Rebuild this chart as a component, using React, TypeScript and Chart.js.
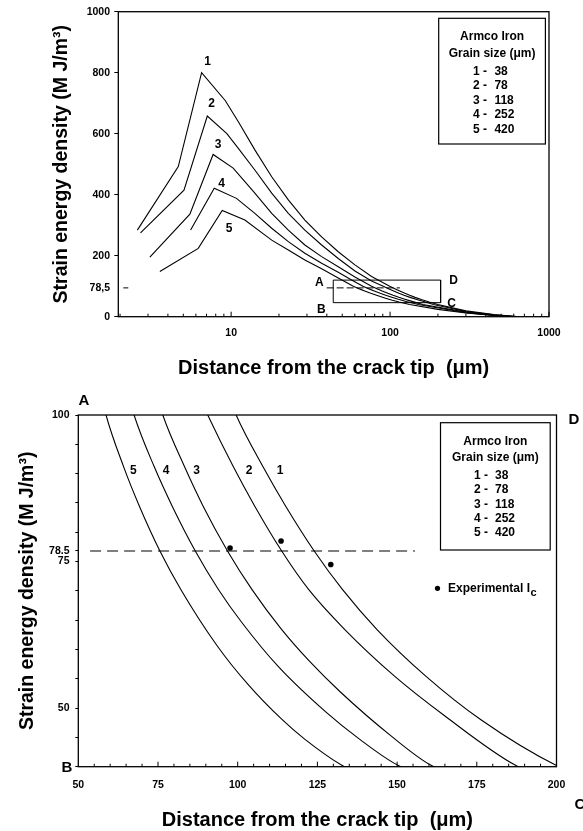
import React, { useEffect, useRef } from 'react';
import { Chart, registerables } from 'chart.js';

Chart.register(...registerables);

const FONT = '"Liberation Sans", Arial, Helvetica, sans-serif';
const INK = '#000';

// ---- Curves (shared by both panels): distance from crack tip (µm) vs strain energy density (MJ/m³)
const CURVE1_X = [2.57, 4.65, 6.52, 9.2, 11.1, 14.1, 18.0, 22.9, 29.1, 37.1, 47.2, 60.1, 76.5, 99.5, 107.9, 115.1, 124.0, 132.9, 143.7, 158.9, 176.3, 200, 300, 450, 650];
const CURVE1_Y = [284, 492, 800, 708, 639, 547, 459, 383, 317, 262, 213, 170, 132, 100, 91.2, 84.4, 76.8, 70.2, 63.4, 55.5, 48, 40.2, 19, 7, 0];
const CURVE2_X = [2.69, 5.05, 7.08, 9.4, 11.1, 14.1, 18.0, 22.9, 29.1, 37.1, 47.2, 60.1, 76.5, 90.6, 98.6, 105.4, 113.8, 122.3, 133.6, 149.1, 164.9, 187.3, 300, 450, 650];
const CURVE2_Y = [275, 415, 658, 600, 552, 481, 405, 339, 284, 235, 191, 150, 117, 100, 91.2, 84.4, 76.8, 70.2, 63.4, 55.5, 48.7, 40.2, 17, 6, 0];
const CURVE3_X = [3.08, 5.5, 7.7, 10.3, 14.1, 18.0, 22.9, 29.1, 37.1, 47.2, 60.1, 76.5, 83.3, 89.2, 96.8, 104.5, 113.5, 122.5, 132.3, 148.0, 160.8, 300, 450, 640];
const CURVE3_Y = [195, 336, 532, 487, 405, 339, 284, 235, 197, 164, 130, 100, 91.2, 84.4, 76.8, 70.2, 63.6, 58, 52.7, 45.3, 40.2, 15, 5, 0];
const CURVE4_X = [5.56, 7.83, 10.8, 14.1, 18.0, 22.9, 29.1, 37.1, 47.2, 58, 67.5, 73.8, 79.5, 86.7, 94.0, 101.3, 112.7, 127.7, 138.2, 150.4, 300, 450, 630];
const CURVE4_Y = [284, 421, 388, 339, 290, 246, 208, 175, 146, 119, 100, 91.2, 84.4, 76.8, 70.2, 64.6, 57.1, 49.3, 44.7, 40.2, 13, 4, 0];
const CURVE5_X = [3.56, 6.21, 8.79, 12.2, 18.0, 22.9, 29.1, 37.1, 47.2, 58.7, 64.2, 69.2, 75.6, 82.2, 93.6, 103.3, 113.8, 121.0, 132.8, 200, 300, 450, 620];
const CURVE5_Y = [148, 224, 348, 317, 251, 219, 186, 157, 127, 100, 91.2, 84.4, 76.8, 70.2, 60.6, 54, 48.1, 44.7, 40.2, 24, 12, 4, 0];

const CURVE_NAMES = ['1', '2', '3', '4', '5'];
const GRAIN_SIZES = ['38', '78', '118', '252', '420'];

// ---- Top panel
const TOP_X_TICKS = [10, 100, 1000];
const TOP_Y_TICKS = [0, 200, 400, 600, 800, 1000];
const TOP_REF_VALUE = 94.5;
const TOP_REF_LABEL = '78,5';
const TOP_REF_LINE_X = [39.9, 115.4];
const BOX_X = [43.9, 208, 208, 43.9, 43.9];
const BOX_Y = [120, 120, 46, 46, 120];
const TOP_LABEL_X = [7.12, 7.54, 8.29, 8.71, 9.69];
const TOP_LABEL_Y = [836, 700, 563, 437, 290];

// ---- Bottom panel
const BOTTOM_X_TICKS = [50, 75, 100, 125, 150, 175, 200];
const BOTTOM_Y_LABELLED = [100, 75, 50];
const BOTTOM_REF_VALUE = 76.8;
const BOTTOM_REF_LABEL = '78.5';
const BOTTOM_REF_LINE_X = [53.7, 155.6];
const EXP_X = [97.6, 113.6, 129.2];
const EXP_Y = [77.3, 78.5, 74.5];
const BOTTOM_LABEL_X = [113.3, 103.6, 87.1, 77.5, 67.3];
const BOTTOM_LABEL_Y = [90.5, 90.5, 90.5, 90.5, 90.5];

const CURVES = [
  [CURVE1_X, CURVE1_Y],
  [CURVE2_X, CURVE2_Y],
  [CURVE3_X, CURVE3_Y],
  [CURVE4_X, CURVE4_Y],
  [CURVE5_X, CURVE5_Y],
];

const zip = (xs: number[], ys: number[]) => xs.map((x, i) => ({ x, y: ys[i] }));

const tickFont = { family: FONT, size: 10.5, weight: 'bold' as const };
const titleFont = { family: FONT, size: 20, weight: 'bold' as const, lineHeight: 1 };

function txt(ctx: CanvasRenderingContext2D, s: string, x: number, y: number, font: string, align: CanvasTextAlign = 'center') {
  ctx.font = font;
  ctx.textAlign = align;
  ctx.textBaseline = 'middle';
  ctx.fillStyle = INK;
  ctx.fillText(s, x, y);
}

function frame(chart: any) {
  const { ctx, chartArea: a } = chart;
  ctx.save();
  ctx.strokeStyle = INK;
  ctx.lineWidth = 1.3;
  ctx.strokeRect(a.left, a.top, a.right - a.left, a.bottom - a.top);
  ctx.restore();
}

function legendBox(ctx: CanvasRenderingContext2D, left: number, top: number, right: number, bottom: number, rows: number[], prefixRight: number, valueLeft: number) {
  ctx.save();
  ctx.strokeStyle = INK;
  ctx.lineWidth = 1.2;
  ctx.strokeRect(left, top, right - left, bottom - top);
  const f = `bold 12px ${FONT}`;
  const cx = (left + right) / 2;
  txt(ctx, 'Armco Iron', cx, rows[0], f);
  txt(ctx, 'Grain size (\u03bcm)', cx, rows[1], f);
  CURVE_NAMES.forEach((n, i) => {
    txt(ctx, n + ' -', prefixRight, rows[i + 2], f, 'right');
    txt(ctx, GRAIN_SIZES[i], valueLeft, rows[i + 2], f, 'left');
  });
  ctx.restore();
}

const lineDs = (data: any[], extra: any = {}) => ({
  data,
  borderColor: INK,
  backgroundColor: INK,
  borderWidth: 1.1,
  pointRadius: 0,
  fill: false,
  tension: 0,
  ...extra,
});

function topConfig(): any {
  const H = 385;
  const plugin = {
    id: 'topDecor',
    afterDraw(chart: any) {
      const { ctx, chartArea: a, scales } = chart;
      const sx = scales.x, sy = scales.y;
      frame(chart);
      ctx.save();
      ctx.strokeStyle = INK;
      ctx.lineWidth = 1;
      for (const d of [1, 10, 100]) {
        for (let m = 2; m <= 10; m++) {
          const v = m * d;
          if (v < sx.min || v > sx.max) continue;
          const px = sx.getPixelForValue(v);
          ctx.beginPath();
          ctx.moveTo(px, a.bottom);
          ctx.lineTo(px, a.bottom - (m === 10 ? 5 : 3));
          ctx.stroke();
        }
      }
      const ry = sy.getPixelForValue(TOP_REF_VALUE);
      ctx.beginPath();
      ctx.moveTo(a.left + 5, ry);
      ctx.lineTo(a.left + 10, ry);
      ctx.stroke();
      const lf = `bold 12px ${FONT}`;
      CURVE_NAMES.forEach((n, i) => {
        txt(ctx, n, sx.getPixelForValue(TOP_LABEL_X[i]), sy.getPixelForValue(TOP_LABEL_Y[i]), lf);
      });
      const bl = sx.getPixelForValue(BOX_X[0]);
      const br = sx.getPixelForValue(BOX_X[1]);
      const bt = sy.getPixelForValue(BOX_Y[0]);
      const bb = sy.getPixelForValue(BOX_Y[2]);
      txt(ctx, 'A', bl - 14, ry - 5, lf);
      txt(ctx, 'B', bl - 12, bb + 7, lf);
      txt(ctx, 'C', br + 11, bb + 1, lf);
      txt(ctx, 'D', br + 13, bt + 1, lf);
      ctx.restore();
      legendBox(ctx, 438.7, 18.3, 545.4, 144, [36.7, 53.3, 71.7, 86, 100.7, 115, 129.3], 487, 494.4);
    },
  };
  return {
    type: 'line',
    data: {
      datasets: [
        ...CURVES.map(([xs, ys]) => lineDs(zip(xs, ys))),
        lineDs(zip(TOP_REF_LINE_X, [TOP_REF_VALUE, TOP_REF_VALUE]), { borderDash: [7, 3], borderWidth: 1 }),
        lineDs(zip(BOX_X, BOX_Y), { borderWidth: 1 }),
      ],
    },
    options: {
      animation: false,
      responsive: false,
      maintainAspectRatio: false,
      events: [],
      layout: { padding: { left: 0, top: 11.7, right: 34, bottom: 0 } },
      plugins: { legend: { display: false }, tooltip: { enabled: false } },
      scales: {
        x: {
          type: 'logarithmic',
          min: 1.95,
          max: 1000,
          afterBuildTicks: (s: any) => { s.ticks = TOP_X_TICKS.map((v) => ({ value: v })); },
          afterFit: (s: any) => { s.height = H - 316.7; s.paddingLeft = 0; s.paddingRight = 0; },
          ticks: { callback: (v: any) => String(v), font: tickFont, color: INK, padding: 10, autoSkip: false, maxRotation: 0 },
          grid: { display: false, drawTicks: false },
          border: { display: false },
          title: { display: true, text: 'Distance from the crack tip  (\u03bcm)', font: titleFont, color: INK, padding: { top: 0, bottom: 6.7 } },
        },
        y: {
          type: 'linear',
          min: 0,
          max: 1000,
          afterBuildTicks: (s: any) => {
            s.ticks = [...TOP_Y_TICKS, TOP_REF_VALUE].sort((p, q) => p - q).map((v) => ({ value: v }));
          },
          afterFit: (s: any) => { s.width = 118.3; s.paddingTop = 0; s.paddingBottom = 0; },
          ticks: {
            callback: (v: any) => (v === TOP_REF_VALUE ? TOP_REF_LABEL : String(v)),
            font: tickFont, color: INK, padding: 4.3, autoSkip: false,
          },
          grid: {
            display: true, drawOnChartArea: false, drawTicks: true, tickLength: 4,
            tickColor: (c: any) => (c.tick && c.tick.value === TOP_REF_VALUE ? 'rgba(0,0,0,0)' : INK),
          },
          border: { display: false },
          title: { display: true, text: 'Strain energy density (M J/m\u00b3)', font: { ...titleFont, size: 19.5 }, color: INK, padding: { top: 52, bottom: 0 } },
        },
      },
    },
    plugins: [plugin],
  };
}

function bottomConfig(): any {
  const H = 446;
  const plugin = {
    id: 'bottomDecor',
    afterDraw(chart: any) {
      const { ctx, chartArea: a, scales } = chart;
      const sx = scales.x, sy = scales.y;
      frame(chart);
      ctx.save();
      ctx.strokeStyle = INK;
      ctx.lineWidth = 1;
      for (let v = sx.min + 5; v < sx.max; v += 5) {
        const px = sx.getPixelForValue(v);
        ctx.beginPath();
        ctx.moveTo(px, a.bottom);
        ctx.lineTo(px, a.bottom - (v % 25 === 0 ? 5 : 3));
        ctx.stroke();
      }
      const lf = `bold 12px ${FONT}`;
      CURVE_NAMES.forEach((n, i) => {
        txt(ctx, n, sx.getPixelForValue(BOTTOM_LABEL_X[i]), sy.getPixelForValue(BOTTOM_LABEL_Y[i]), lf);
      });
      const big = `bold 15px ${FONT}`;
      txt(ctx, 'A', a.left + 5.5, a.top - 14, big);
      txt(ctx, 'B', a.left - 11.5, a.bottom + 1, big);
      txt(ctx, 'C', a.right + 23.5, a.bottom + 38.3, big);
      txt(ctx, 'D', a.right + 17.5, a.top + 5, big);
      ctx.fillStyle = INK;
      ctx.beginPath();
      ctx.arc(437.5, 203.3, 2.6, 0, Math.PI * 2);
      ctx.fill();
      txt(ctx, 'Experimental I', 448, 203.3, lf, 'left');
      ctx.font = lf;
      const w = ctx.measureText('Experimental I').width;
      txt(ctx, 'c', 448 + w + 0.5, 207.5, `bold 11px ${FONT}`, 'left');
      ctx.restore();
      legendBox(ctx, 440.5, 37.7, 550.2, 165, [56.7, 72.3, 91, 105, 120, 133.3, 147.7], 488, 495);
    },
  };
  return {
    type: 'line',
    data: {
      datasets: [
        ...CURVES.map(([xs, ys]) => lineDs(zip(xs, ys), { cubicInterpolationMode: 'monotone' })),
        lineDs(zip(BOTTOM_REF_LINE_X, [BOTTOM_REF_VALUE, BOTTOM_REF_VALUE]), { borderDash: [11, 6], borderWidth: 1.2 }),
        {
          data: zip(EXP_X, EXP_Y),
          showLine: false,
          pointRadius: 2.8,
          pointBorderWidth: 0,
          pointBackgroundColor: INK,
          borderColor: INK,
        },
      ],
    },
    options: {
      animation: false,
      responsive: false,
      maintainAspectRatio: false,
      events: [],
      layout: { padding: { left: 0, top: 30, right: 26.5, bottom: 0 } },
      plugins: { legend: { display: false }, tooltip: { enabled: false } },
      scales: {
        x: {
          type: 'linear',
          min: 50,
          max: 200,
          afterBuildTicks: (s: any) => { s.ticks = BOTTOM_X_TICKS.map((v) => ({ value: v })); },
          afterFit: (s: any) => { s.height = H - 381.7; s.paddingLeft = 0; s.paddingRight = 0; },
          ticks: { callback: (v: any) => String(v), font: tickFont, color: INK, padding: 12, autoSkip: false, maxRotation: 0 },
          grid: { display: false, drawTicks: false },
          border: { display: false },
          title: { display: true, text: 'Distance from the crack tip  (\u03bcm)', font: titleFont, color: INK, padding: { top: 0, bottom: 1 } },
        },
        y: {
          type: 'linear',
          min: 40,
          max: 100,
          afterBuildTicks: (s: any) => {
            const vals: number[] = [];
            for (let v = 40; v <= 100; v += 5) vals.push(v);
            vals.push(BOTTOM_REF_VALUE);
            s.ticks = vals.sort((p, q) => p - q).map((v) => ({ value: v }));
          },
          afterFit: (s: any) => { s.width = 78.3; s.paddingTop = 0; s.paddingBottom = 0; },
          ticks: {
            callback: (v: any) => (v === BOTTOM_REF_VALUE ? BOTTOM_REF_LABEL : BOTTOM_Y_LABELLED.includes(v) ? String(v) : ''),
            font: tickFont, color: INK, padding: 5.8, autoSkip: false,
          },
          grid: { display: true, drawOnChartArea: false, drawTicks: true, tickLength: 3, tickColor: INK },
          border: { display: false },
          title: { display: true, text: 'Strain energy density (M J/m\u00b3)', font: { ...titleFont, size: 19.5 }, color: INK, padding: { top: 18.2, bottom: 0 } },
        },
      },
    },
    plugins: [plugin],
  };
}

export default function App() {
  const topRef = useRef<HTMLCanvasElement>(null);
  const botRef = useRef<HTMLCanvasElement>(null);
  useEffect(() => {
    const top = new Chart(topRef.current as HTMLCanvasElement, topConfig());
    const bot = new Chart(botRef.current as HTMLCanvasElement, bottomConfig());
    return () => {
      top.destroy();
      bot.destroy();
    };
  }, []);
  return (
    <div style={{ position: 'absolute', left: 0, top: 0, width: 583, height: 831, background: '#fff', overflow: 'hidden' }}>
      <canvas ref={topRef} width={583} height={385} style={{ position: 'absolute', left: 0, top: 0, width: 583, height: 385 }} />
      <canvas ref={botRef} width={583} height={446} style={{ position: 'absolute', left: 0, top: 385, width: 583, height: 446 }} />
    </div>
  );
}
